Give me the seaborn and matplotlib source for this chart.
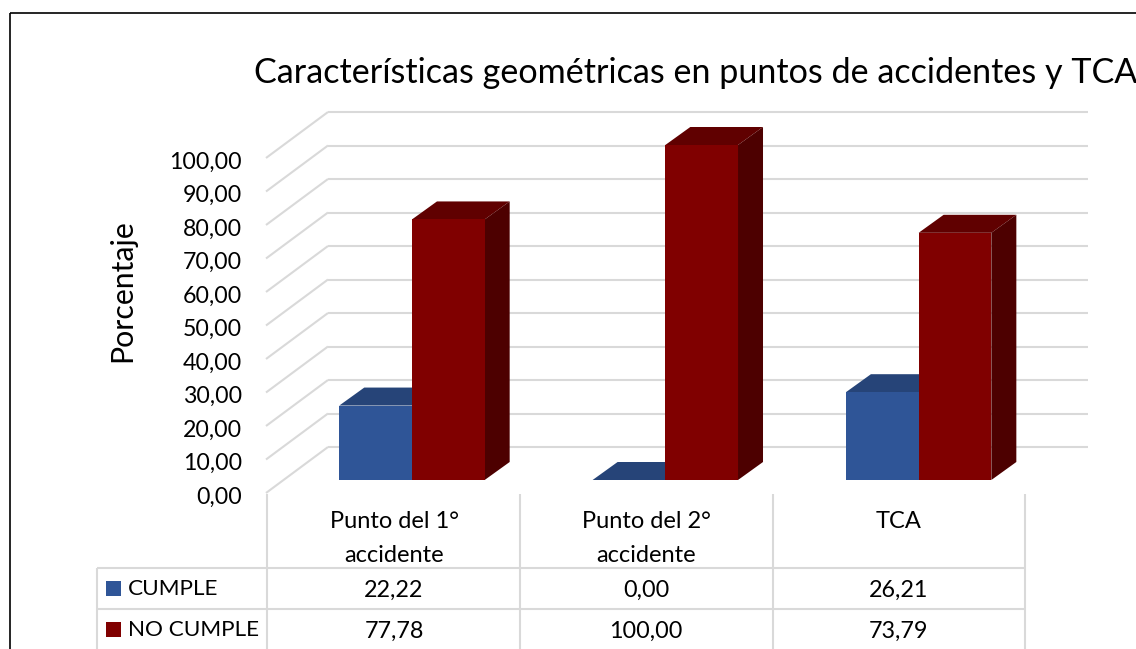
import numpy as np
import pandas as pd
import matplotlib
matplotlib.use("Agg")
import matplotlib.pyplot as plt
from matplotlib.lines import Line2D
from matplotlib.patches import Polygon, Rectangle
from matplotlib.transforms import Affine2D
import seaborn as sns

categories = ["Punto del 1°\naccidente", "Punto del 2°\naccidente", "TCA"]
cumple = [22.22, 0.00, 26.21]
no_cumple = [77.78, 100.00, 73.79]
series_names = ["CUMPLE", "NO CUMPLE"]
y_ticks = list(range(0, 101, 10))
title = "Características geométricas en puntos de accidentes y TCA"
y_label = "Porcentaje"

W, H = 1136, 649
front = {"CUMPLE": "#2F5597", "NO CUMPLE": "#800000"}
top = {"CUMPLE": "#264478", "NO CUMPLE": "#600000"}
side = {"CUMPLE": "#1F3864", "NO CUMPLE": "#4D0000"}
GRID = "#D9D9D9"
FONT = "Lato"

sns.set_theme(style="white")
plt.rcParams["font.family"] = [FONT, "DejaVu Sans"]
plt.rcParams["text.color"] = "black"

fig = plt.figure(figsize=(W / 100, H / 100), dpi=100, facecolor="white")

def fx(px):
    return px / W

def fy(py):
    return 1 - py / H

AX_L, AX_R, AX_T, AX_B = 285.3, 1045.3, 145.0, 480.0
ax = fig.add_axes([fx(AX_L), fy(AX_B), fx(AX_R - AX_L), (AX_B - AX_T) / H])
ax.set_facecolor("none")

df = pd.DataFrame({
    "cat": categories * 2,
    "serie": [series_names[0]] * 3 + [series_names[1]] * 3,
    "valor": cumple + no_cumple,
})
sns.barplot(data=df, x="cat", y="valor", hue="serie", hue_order=series_names,
            palette=front, saturation=1, width=0.574, gap=0, dodge=True,
            legend=False, ax=ax, linewidth=0, zorder=4)
ax.set_xlim(-0.5, 2.5)
ax.set_ylim(0, 100)
ax.set_xlabel("")
ax.set_ylabel("")
ax.set_xticks([])
for s in ax.spines.values():
    s.set_visible(False)

# 3D depth of the bars, derived from the patches seaborn drew
unit_x = (AX_R - AX_L) / 3
unit_y = (AX_B - AX_T) / 100
ddx, ddy = 25 / unit_x, 18 / unit_y
for container, name, zb in zip(ax.containers, series_names, (2, 5)):
    for bar in container:
        x0, w, h = bar.get_x(), bar.get_width(), bar.get_height()
        bar.set_zorder(zb + 0.5)
        ax.add_patch(Polygon([(x0, h), (x0 + w, h), (x0 + w + ddx, h + ddy), (x0 + ddx, h + ddy)],
                             closed=True, fc=top[name], ec="none", clip_on=False, zorder=zb))
        ax.add_patch(Polygon([(x0 + w, 0), (x0 + w + ddx, ddy), (x0 + w + ddx, h + ddy), (x0 + w, h)],
                             closed=True, fc=side[name], ec="none", clip_on=False, zorder=zb))

# walls: gridlines on the back wall and the slanted lines to the front
yax = ax.get_yaxis_transform()
back = yax + Affine2D().translate(42.7, 33)
for v in y_ticks:
    ax.plot([0, 1], [v, v], transform=back, color=GRID, lw=1.5, clip_on=False, zorder=1,
            solid_capstyle="butt")
    p0 = yax.transform((0, v)) + np.array([-19.3, -13])
    p1 = yax.transform((0, v)) + np.array([42.7, 33])
    ax.plot([p0[0], p1[0]], [p0[1], p1[1]], transform=None, color=GRID, lw=1.5,
            clip_on=False, zorder=1, solid_capstyle="butt")

# y tick labels sit on the front edge of the floor
ax.set_yticks(y_ticks)
ax.set_yticklabels([f"{v:.2f}".replace(".", ",") for v in y_ticks], fontsize=16.7, color="black")
ax.tick_params(axis="y", length=0, pad=31)
for lab in ax.get_yticklabels():
    lab.set_transform(lab.get_transform() + Affine2D().translate(0, -15))

fig.text(fx(254), fy(73), title, fontsize=24.55, ha="left", va="center", color="black")
fig.text(fx(122), fy(291), y_label, fontsize=21.8, rotation=90, ha="center", va="center", color="black")

# data table
def fline(x0, y0, x1, y1, color=GRID, lw=1.5):
    fig.add_artist(Line2D([fx(x0), fx(x1)], [fy(y0), fy(y1)], color=color, lw=lw,
                          solid_capstyle="butt"))

for y in (568, 609):
    fline(97, y, 1025, y)
fline(97, 568, 97, 649)
for x in (267, 520, 773, 1025):
    fline(x, 494, x, 649)

centers = [394, 646, 899]
for cx, cat, a, b in zip(centers, categories, cumple, no_cumple):
    for i, line in enumerate(cat.split("\n")):
        fig.text(fx(cx), fy(522 + 33 * i), line, fontsize=17, ha="center", va="center")
    fig.text(fx(cx), fy(590), f"{a:.2f}".replace(".", ","), fontsize=16.8, ha="center", va="center")
    fig.text(fx(cx), fy(631), f"{b:.2f}".replace(".", ","), fontsize=16.8, ha="center", va="center")

for name, yc in zip(series_names, (588.5, 629.5)):
    fig.add_artist(Rectangle((fx(106), fy(yc + 7.5)), 15 / W, 15 / H, transform=fig.transFigure,
                             fc=front[name], ec="none"))
    fig.text(fx(128), fy(yc + 0.5), name, fontsize=16.2, ha="left", va="center")

# outer frame
fline(9.5, 12.5, W, 12.5, color="black", lw=1.2)
fline(9.5, 12.5, 9.5, H, color="black", lw=1.2)

fig.savefig("out.png", dpi=100, facecolor="white")
